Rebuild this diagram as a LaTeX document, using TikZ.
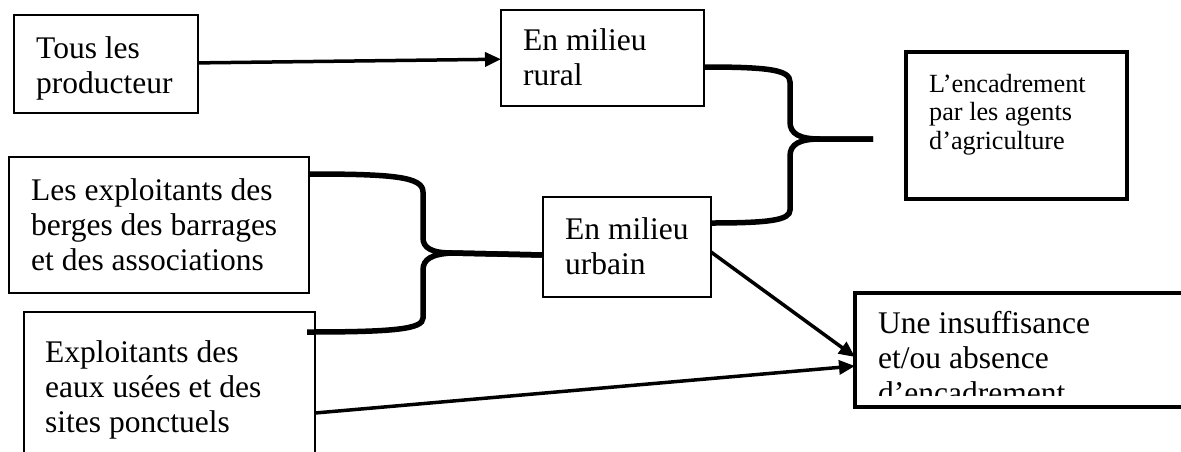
\documentclass[tikz,border=0pt]{standalone}
\usepackage{fontspec}
\setmainfont{Liberation Serif}
\usetikzlibrary{arrows.meta}

\begin{document}
\begin{tikzpicture}[x=1pt,y=-1pt]
\tikzset{
  plainbox/.style={rectangle,draw,line width=2pt,inner sep=0pt,outer sep=0pt},
  heavybox/.style={plainbox,line width=3.5pt},
  boxtext/.style={anchor=north west,inner sep=0pt,align=left,font=\fontsize{31.5}{35}\selectfont},
  smalltext/.style={boxtext,font=\fontsize{26.25}{28.5}\selectfont},
  directed/.style={-{Triangle[length=16pt,width=14pt]},line width=3.5pt},
  bracket/.style={line width=5.5pt}
}
\useasboundingbox (0,0) rectangle (1181,451);
\clip (0,0) rectangle (1181,451);
\node[plainbox,minimum width=184pt,minimum height=98pt] (n_Tous) at (106.00,64.00) {};
\node[plainbox,minimum width=203pt,minimum height=96pt] (n_Rural) at (602.50,58.00) {};
\node[heavybox,minimum width=221pt,minimum height=147pt] (n_Enc) at (1016.50,125.50) {};
\node[plainbox,minimum width=300pt,minimum height=136pt] (n_Berges) at (159.00,225.00) {};
\node[plainbox,minimum width=291pt,minimum height=158pt] (n_Eaux) at (169.50,391.00) {};
\node[plainbox,minimum width=168pt,minimum height=100pt] (n_Urbain) at (627.00,247.00) {};
\node[heavybox,minimum width=345pt,minimum height=114pt] (n_Insuf) at (1027.50,350.00) {};
\node[boxtext] (t_Tous) at (36.00,34.00) {\strut Tous les\\producteur};
\node[boxtext] (t_Rural) at (523.00,25.50) {\strut En milieu\\rural};
\node[smalltext] (t_Enc) at (929.00,72.00) {\strut L’encadrement\\par les agents\\d’agriculture};
\node[boxtext] (t_Berges) at (31.00,175.50) {\strut Les exploitants des\\berges des barrages\\et des associations};
\node[boxtext] (t_Eaux) at (45.00,337.50) {\strut Exploitants des\\eaux usées et des\\sites ponctuels};
\node[boxtext] (t_Urbain) at (565.00,214.50) {\strut En milieu\\urbain};
\begin{scope}
\clip (857.00,295.00) rectangle (1181.00,395.00);
\node[boxtext] (t_Insuf) at (878.00,308.50) {\strut Une insuffisance\\et/ou absence\\d’encadrement};
\end{scope}
\coordinate (c_TipR) at (873.00,139.00);
\draw[directed] (n_Tous) -- (n_Rural);
\draw[directed] ([yshift=-5pt]n_Urbain.east) -- ([yshift=-7pt]n_Insuf.west);
\draw[directed] ([yshift=-22pt]n_Eaux.east) -- ([yshift=-16pt]n_Insuf.west);
\draw[bracket] ([yshift=51pt]n_Berges.east) .. controls (395.00,174.00) and (423.00,177.00) .. (423.00,192.00) -- (423.00,238.00) .. controls (423.00,248.00) and (432.00,253.00) .. (452.00,253.00) -- ([yshift=-8pt]n_Urbain.west);
\draw[bracket] ([xshift=-8pt,yshift=59pt]n_Eaux.east) .. controls (395.00,332.00) and (423.00,329.00) .. (423.00,318.00) -- (423.00,270.00) .. controls (423.00,259.00) and (432.00,254.00) .. (452.00,253.00) -- ([yshift=-8pt]n_Urbain.west);
\draw[bracket] ([yshift=-9pt]n_Rural.east) .. controls (770.00,67.00) and (790.00,70.00) .. (790.00,82.00) -- (790.00,122.00) .. controls (790.00,134.00) and (800.00,139.00) .. (820.00,139.00) -- (c_TipR);
\draw[bracket] ([yshift=24pt]n_Urbain.east) .. controls (770.00,223.00) and (790.00,220.00) .. (790.00,210.00) -- (790.00,156.00) .. controls (790.00,144.00) and (800.00,139.00) .. (820.00,139.00) -- (c_TipR);
\end{tikzpicture}
\end{document}
